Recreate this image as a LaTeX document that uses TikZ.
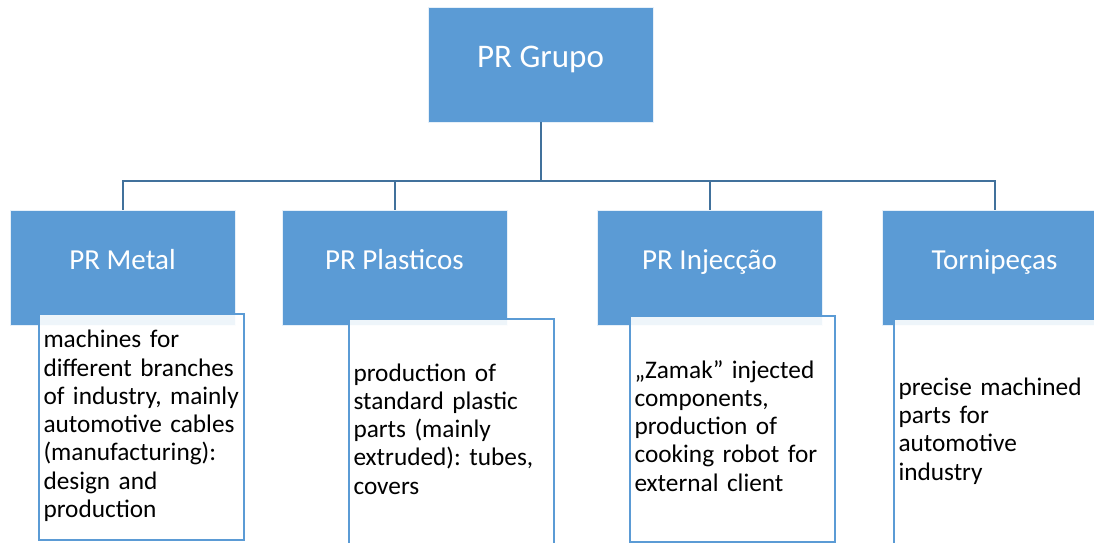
\documentclass[tikz,border=0pt]{standalone}
\usepackage{fontspec}
\setmainfont{Carlito}
\frenchspacing
\definecolor{boxblue}{HTML}{5B9BD5}
\definecolor{linkblue}{HTML}{41719C}
\newcommand{\desclines}[1]{\begin{tabular}{@{}l@{}}#1\end{tabular}}
\begin{document}
\begin{tikzpicture}[x=1pt,y=-1pt,
  unit/.style={fill=boxblue, draw=white!85!boxblue, line width=0.8pt, text=white,
    minimum width=225pt, minimum height=115pt, inner sep=0pt,
    font=\fontsize{29}{34}\selectfont, text height=19pt, text depth=14.4pt},
  top/.style={unit, font=\fontsize{33}{38}\selectfont, text height=22pt, text depth=15.8pt},
  desc/.style={anchor=north west, fill=white, fill opacity=0.9, text opacity=1,
    draw=boxblue, line width=2pt, text=black, text width=196pt, inner xsep=4.5pt,
    inner ysep=0pt, minimum height=226pt, align=left,
    font=\fontsize{25.3}{28.3}\selectfont\frenchspacing},
  conn/.style={draw=linkblue, line width=2pt}]
\useasboundingbox (0,0) rectangle (1094,542);
\clip (0,0) rectangle (1094,542);

\node[top] (grupo) at (540.5,64.5) {PR Grupo};
\node[unit] (metal) at (122.5,267.5) {PR Metal};
\node[unit] (plast) at (394.5,267.5) {PR Plasticos};
\node[unit] (injec) at (709.5,267.5) {PR Injecção};
\node[unit] (torni) at (994.5,267.5) {Tornipeças};

\coordinate (bus) at (540.5,181);
\draw[conn] (grupo.south) -- (bus) -| (metal.north);
\draw[conn] (bus) -| (plast.north);
\draw[conn] (bus) -| (injec.north);
\draw[conn] (bus) -| (torni.north);

\node[desc] (dmetal) at (38,313) {\desclines{machines for\\different branches\\of industry, mainly\\automotive cables\\(manufacturing):\\design and\\production}};
\node[desc] (dplast) at (348,318) {\desclines{production of\\standard plastic\\parts (mainly\\extruded): tubes,\\covers}};
\node[desc] (dinjec) at (629,315) {\desclines{„Zamak” injected\\components,\\production of\\cooking robot for\\external client}};
\node[desc] (dtorni) at (893,318) {\desclines{precise machined\\parts for\\automotive\\industry}};
\end{tikzpicture}
\end{document}
